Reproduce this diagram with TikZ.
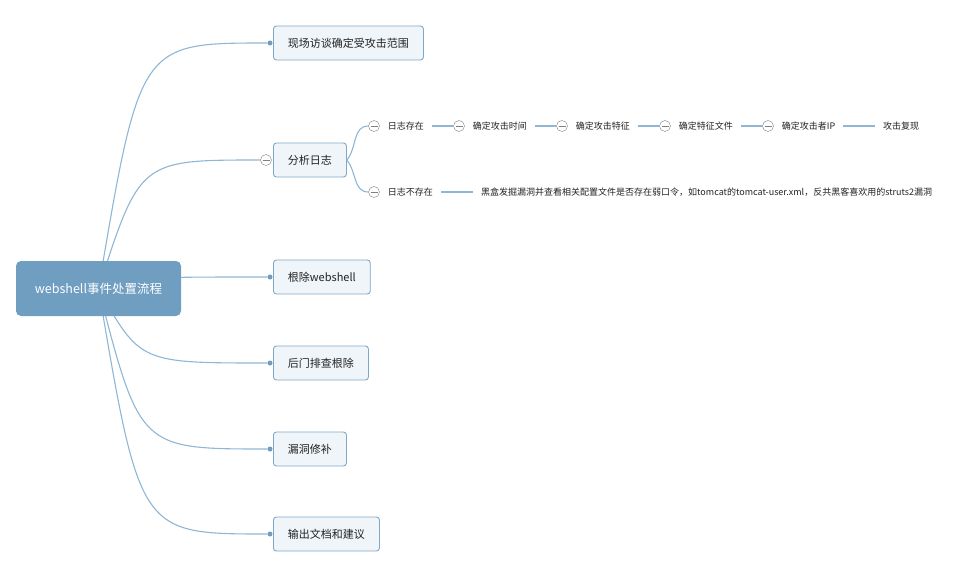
\documentclass[tikz,border=0pt]{standalone}
\usepackage{fontspec}
\usepackage{xcolor}
\usetikzlibrary{positioning, backgrounds}
\newfontfamily\cjk{Noto Sans CJK SC}
\definecolor{linkBlue}{HTML}{8FB6D4}
\definecolor{rootBlue}{HTML}{6F9EC1}
\definecolor{boxBlue}{HTML}{7FA8C8}
\definecolor{boxFill}{HTML}{F0F5F9}
\definecolor{textGray}{HTML}{222222}
\definecolor{foldGray}{HTML}{808080}
\tikzset{
foldMe/.style={shape=circle, draw=foldGray, fill=white, minimum size=11pt, inner sep=0pt,
    path picture={\draw[foldGray] ([xshift=-3.5pt]path picture bounding box.center) -- ([xshift=3.5pt]path picture bounding box.center);}
    }}

\begin{document}
\begin{tikzpicture}[x=1pt, y=-1pt]
		\tikzset{root/.style = {shape=rectangle, rounded corners=5pt, fill=rootBlue, text=white, font=\cjk\fontsize{12.5}{14}\selectfont, minimum width=165pt, minimum height=55pt}}
		\tikzset{topic/.style = {shape=rectangle, rounded corners=3pt, draw=boxBlue, fill=boxFill, line width=0.9pt, text=textGray, font=\cjk\fontsize{11}{13}\selectfont, minimum height=34pt, inner xsep=14.5pt, anchor=west}}
		\tikzset{leaf/.style = {text=textGray, font=\cjk\fontsize{9}{11}\selectfont, inner xsep=8pt, inner ysep=0pt}}
		\tikzset{dot/.style = {shape=circle, fill=rootBlue, inner sep=0pt, minimum size=5pt}}
		\tikzset{link/.style = {draw=linkBlue, line width=1.1pt}}

		\useasboundingbox (0,0) rectangle (972,578);

		\node[root] (root) at (98.5,288.5) {webshell事件处置流程};
		\coordinate (rc) at (140,288.5);

		\node[dot] (D1) at (270,43) {};
		\node[foldMe] (F0) at (266,160) {};
		\node[dot] (D3) at (270,277) {};
		\node[dot] (D4) at (270,363) {};
		\node[dot] (D5) at (270,449) {};
		\node[dot] (D6) at (270,534) {};

		\node[topic] (T1) at (273,43) {现场访谈确定受攻击范围};
		\node[topic] (T2) at (273,160) {分析日志};
		\node[topic] (T3) at (273,277) {根除webshell};
		\node[topic] (T4) at (273,363) {后门排查根除};
		\node[topic] (T5) at (273,449) {漏洞修补};
		\node[topic] (T6) at (273,534) {输出文档和建议};

		% 日志存在
		\node[foldMe] (F1) at (374,126) {};
		\node[leaf, right=0pt of F1] (L1) {日志存在};
		\node[foldMe] (F2) at (459,126) {};
		\node[leaf, right=0pt of F2] (L2) {确定攻击时间};
		\node[foldMe] (F3) at (562,126) {};
		\node[leaf, right=0pt of F3] (L3) {确定攻击特征};
		\node[foldMe] (F4) at (665,126) {};
		\node[leaf, right=0pt of F4] (L4) {确定特征文件};
		\node[foldMe] (F5) at (768,126) {};
		\node[leaf, right=0pt of F5] (L5) {确定攻击者IP};
		\node[leaf, anchor=west] (L6) at (875,126) {攻击复现};

		% 日志不存在
		\node[foldMe] (F6) at (374,192) {};
		\node[leaf, right=0pt of F6] (L7) {日志不存在};
		\node[leaf, anchor=west] (L8) at (473,192) {黑盒发掘漏洞并查看相关配置文件是否存在弱口令，如tomcat的tomcat-user.xml，反共黑客喜欢用的struts2漏洞};

		\begin{scope}[on background layer]
		\draw[link] (root.center) .. controls (rc |- D1) .. (D1);
		\draw[link] (root.center) .. controls (rc |- F0) .. (F0.west);
		\draw[link] (root.center) .. controls (rc |- D3) .. (D3);
		\draw[link] (root.center) .. controls (rc |- D4) .. (D4);
		\draw[link] (root.center) .. controls (rc |- D5) .. (D5);
		\draw[link] (root.center) .. controls (rc |- D6) .. (D6);
		\end{scope}

		\draw[link] (T2.east) to[out=50, in=180] (F1.west);
		\draw[link] (T2.east) to[out=-50, in=180] (F6.west);

		\draw[link] (L1.east) -- (F2.west);
		\draw[link] (L2.east) -- (F3.west);
		\draw[link] (L3.east) -- (F4.west);
		\draw[link] (L4.east) -- (F5.west);
		\draw[link] (L5.east) -- (L6.west);
		\draw[link] (L7.east) -- (L8.west);

	\end{tikzpicture}
\end{document}
